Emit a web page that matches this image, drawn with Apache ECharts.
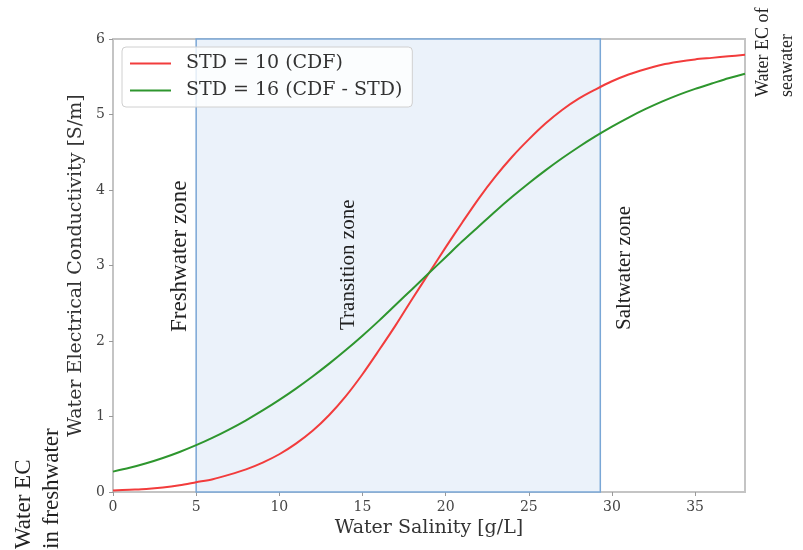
<!DOCTYPE html>
<html>
<head>
<meta charset="utf-8">
<script src="https://cdn.jsdelivr.net/npm/echarts@6/dist/echarts.min.js"></script>
<style>html,body{margin:0;padding:0;background:#fff}#c{width:803px;height:550px}</style>
</head>
<body>
<div id="c"></div>
<script>
// ---- data ----
const salinity = [0,1,2,3,4,5,6,7,8,9,10,11,12,13,14,15,16,17,18,19,20,21,22,23,24,25,26,27,28,29,30,31,32,33,34,35,36,37,38];
const ecStd10 = [0.02,0.03,0.04,0.06,0.09,0.13,0.17,0.23,0.30,0.39,0.50,0.64,0.81,1.02,1.27,1.56,1.88,2.21,2.56,2.90,3.24,3.57,3.89,4.18,4.44,4.67,4.88,5.06,5.21,5.33,5.44,5.53,5.60,5.66,5.70,5.73,5.75,5.77,5.79];
const ecStd16 = [0.27,0.32,0.38,0.45,0.53,0.62,0.72,0.83,0.95,1.08,1.22,1.37,1.53,1.70,1.88,2.07,2.27,2.48,2.69,2.90,3.11,3.32,3.52,3.72,3.91,4.09,4.26,4.42,4.57,4.71,4.84,4.96,5.07,5.17,5.26,5.34,5.41,5.48,5.54];
const seriesNames = ['STD = 10 (CDF)', 'STD = 16 (CDF - STD)'];
const transitionZone = [5, 29.3];
const zoneLabels = ['Freshwater zone', 'Transition zone', 'Saltwater zone'];
const xTicks = [0,5,10,15,20,25,30,35];
const yTicks = [0,1,2,3,4,5,6];

const serif = 'DejaVu Serif';
const times = '"Liberation Serif"';
const chart = echarts.init(document.getElementById('c'), null, {renderer:'canvas'});
const pair = (xs, ys) => xs.map((x,i)=>[x, ys[i]]);

function vtext(x, y, text, font, align){
  return {type:'text', x:x, y:y, rotation:Math.PI/2, z:100,
    style:{text:text, font:font, fill:'#222', align:align, verticalAlign:'middle'}};
}

chart.setOption({
  animation:false,
  backgroundColor:'#fff',
  grid:{left:113, right:58, top:39, bottom:58, show:true, borderColor:'#c4c4c4', borderWidth:2},
  legend:{
    left:122, top:47, orient:'vertical', itemGap:8,
    itemWidth:41, itemHeight:2, icon:'rect',
    backgroundColor:'rgba(255,255,255,0.8)', borderColor:'#d0d0d0', borderWidth:1, borderRadius:4,
    padding:[7,10,7,8],
    textStyle:{fontFamily:serif, fontSize:19, color:'#333', padding:[0,0,0,10]},
    data: seriesNames
  },
  xAxis:{
    type:'value', min:0, max:38, interval:5,
    name:'Water Salinity [g/L]', nameLocation:'middle', nameGap:21,
    nameTextStyle:{fontFamily:serif, fontSize:19, color:'#333'},
    axisLine:{show:true, lineStyle:{color:'#c4c4c4', width:2}},
    axisTick:{show:true, length:4, lineStyle:{color:'#999'}},
    axisLabel:{fontFamily:serif, fontSize:14, color:'#444', showMaxLabel:false, margin:8,
      formatter:v=> xTicks.includes(v)? String(v):''},
    splitLine:{show:false}
  },
  yAxis:{
    type:'value', min:0, max:6, interval:1,
    name:'Water Electrical Conductivity [S/m]', nameLocation:'middle', nameGap:26,
    nameTextStyle:{fontFamily:serif, fontSize:19, color:'#333'},
    axisLine:{show:true, lineStyle:{color:'#c4c4c4', width:2}},
    axisTick:{show:true, length:4, lineStyle:{color:'#999'}},
    axisLabel:{fontFamily:serif, fontSize:14, color:'#444', margin:8,
      formatter:v=> yTicks.includes(v)? String(v):''},
    splitLine:{show:false}
  },
  series:[
    {
      name:seriesNames[0], type:'line', data:pair(salinity, ecStd10), smooth:0.3,
      symbol:'none', lineStyle:{color:'#f23c3c', width:2}, itemStyle:{color:'#f23c3c'}, z:3,
      markArea:{
        silent:true,
        itemStyle:{color:'#ebf2fa', borderColor:'#7aa7d6', borderWidth:1.5},
        data:[[{xAxis:transitionZone[0], yAxis:0},{xAxis:transitionZone[1], yAxis:6}]]
      }
    },
    {
      name:seriesNames[1], type:'line', data:pair(salinity, ecStd16), smooth:0.3,
      symbol:'none', lineStyle:{color:'#2e962e', width:2}, itemStyle:{color:'#2e962e'}, z:3
    }
  ],
  graphic:[
    vtext(180, 332, zoneLabels[0], '23px ' + times, 'left'),
    vtext(348, 330, zoneLabels[1], '21px ' + times, 'left'),
    vtext(624, 330, zoneLabels[2], '21px ' + times, 'left'),
    vtext(24, 549, 'Water EC', '23px ' + times, 'left'),
    vtext(52, 549, 'in freshwater', '23px ' + times, 'left'),
    vtext(763, 97, 'Water EC of', '18px ' + times, 'left'),
    vtext(787, 97, 'seawater', '18px ' + times, 'left')
  ]
});
</script>
</body>
</html>
